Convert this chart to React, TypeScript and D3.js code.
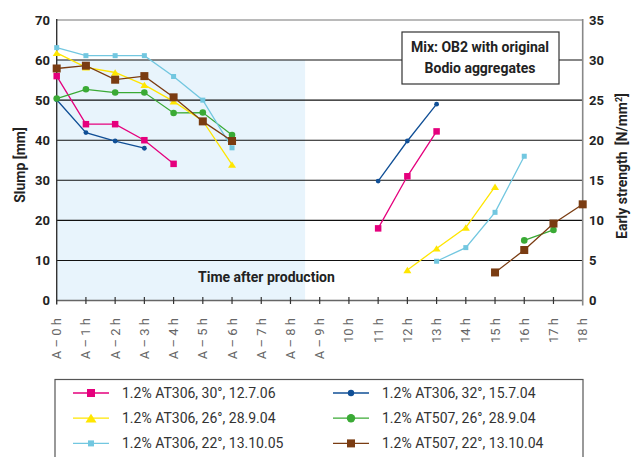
import * as d3 from 'd3';

const timeLabels = [
  'A – 0 h', 'A – 1 h', 'A – 2 h', 'A – 3 h', 'A – 4 h', 'A – 5 h', 'A – 6 h',
  'A – 7 h', 'A – 8 h', 'A – 9 h', '10 h', '11 h', '12 h', '13 h', '14 h',
  '15 h', '16 h', '17 h', '18 h',
];
const slumpTicks = [0, 10, 20, 30, 40, 50, 60, 70];
const strengthTicks = [0, 5, 10, 15, 20, 25, 30, 35];

// slump [mm], measured from hour 0
const slumpPink = [56, 44, 44, 40, 34.1];
const slumpBlue = [50.1, 41.9, 39.8, 38];
const slumpYellow = [61.8, 58.2, 56.9, 53.8, 49.7, 44.8, 33.9];
const slumpCyan = [63.1, 61.1, 61.1, 61.1, 55.9, 50, 38.1];
const slumpGreen = [50.4, 52.7, 51.9, 51.9, 46.8, 46.9, 41.3];
const slumpBrown = [57.9, 58.6, 55.1, 56, 50.7, 44.7, 39.8];

// early strength [N/mm2]
const strengthPink = [9, 15.5, 21.1];
const strengthBlue = [14.9, 19.9, 24.5];
const strengthYellow = [3.8, 6.5, 9.1, 14.2];
const strengthCyan = [4.9, 6.6, 11, 18];
const strengthGreen = [7.5, 8.8];
const strengthBrown = [3.5, 6.3, 9.6, 12];

const series = [
  { name: '1.2% AT306, 32°, 15.7.04', color: '#104f96', shape: 'circle', size: 2.4, lsize: 3.2, slump: slumpBlue, strength: strengthBlue, from: 11 },
  { name: '1.2% AT306, 30°, 12.7.06', color: '#e5007d', shape: 'square', size: 6.5, lsize: 8, slump: slumpPink, strength: strengthPink, from: 11 },
  { name: '1.2% AT507, 26°, 28.9.04', color: '#3aaa35', shape: 'circle', size: 3.3, lsize: 4.2, slump: slumpGreen, strength: strengthGreen, from: 16 },
  { name: '1.2% AT306, 26°, 28.9.04', color: '#ffe600', shape: 'triangle', size: 8, lsize: 11, slump: slumpYellow, strength: strengthYellow, from: 12 },
  { name: '1.2% AT306, 22°, 13.10.05', color: '#72c7e0', shape: 'square', size: 5, lsize: 6, slump: slumpCyan, strength: strengthCyan, from: 13 },
  { name: '1.2% AT507, 22°, 13.10.04', color: '#7a3c12', shape: 'square', size: 8, lsize: 8, slump: slumpBrown, strength: strengthBrown, from: 15 },
];
const legendOrder = [
  '1.2% AT306, 30°, 12.7.06', '1.2% AT306, 26°, 28.9.04', '1.2% AT306, 22°, 13.10.05',
  '1.2% AT306, 32°, 15.7.04', '1.2% AT507, 26°, 28.9.04', '1.2% AT507, 22°, 13.10.04',
];

const W = 637;
const H = 457;
const left = 56.7;
const right = 582.7;
const top = 20;
const bottom = 300.5;

const x = d3.scaleLinear().domain([0, timeLabels.length - 1]).range([left, right]);
const yL = d3.scaleLinear().domain([0, 70]).range([bottom, top]);
const yR = d3.scaleLinear().domain([0, 35]).range([bottom, top]);

const font = 'Roboto, "DejaVu Sans", sans-serif';

const Marker = ({ shape, cx, cy, size, color }) => {
  if (shape === 'circle') return <circle cx={cx} cy={cy} r={size} fill={color} />;
  if (shape === 'square')
    return <rect x={cx - size / 2} y={cy - size / 2} width={size} height={size} fill={color} />;
  const h = size * 0.8;
  return (
    <path
      d={`M${cx - size / 2},${cy + h / 2}L${cx + size / 2},${cy + h / 2}L${cx},${cy - h / 2}Z`}
      fill={color}
    />
  );
};

const App = () => {
  const line = d3
    .line<[number, number]>()
    .x((d) => d[0])
    .y((d) => d[1]);

  return (
    <svg width={W} height={H} style={{ position: 'absolute', left: 0, top: 0, background: '#fff' }} fontFamily={font}>
      <rect x={left} y={yL(60)} width={x(8.5) - left} height={yL(0) - yL(60)} fill="#e8f4fc" />
      {slumpTicks.slice(1).map((t) => (
        <line key={t} x1={left} x2={right} y1={yL(t)} y2={yL(t)} stroke={t === 70 ? '#777' : '#111'} strokeWidth={1.1} />
      ))}
      {/* axes */}
      <line x1={left} x2={right} y1={bottom} y2={bottom} stroke="#666" strokeWidth={1.6} />
      <line x1={left} x2={left} y1={top - 1} y2={bottom + 4} stroke="#333" strokeWidth={1.4} />
      <line x1={right} x2={right} y1={top - 1} y2={bottom + 5} stroke="#888" strokeWidth={1.6} />
      {timeLabels.map((lab, i) => (
        <g key={lab}>
          {i > 0 && i < timeLabels.length - 1 && (
            <line x1={x(i)} x2={x(i)} y1={bottom - 3.5} y2={bottom + 3.5} stroke="#333" strokeWidth={1.2} />
          )}
          <text
            transform={`translate(${x(i) + 4.5},318) rotate(-90)`}
            textAnchor="end"
            fontSize={13}
            fill="#666"
          >
            {lab}
          </text>
        </g>
      ))}
      {slumpTicks.map((t) => (
        <text key={t} x={50} y={yL(t) + 4.5} textAnchor="end" fontSize={13} fontWeight="bold" fill="#222">
          {t}
        </text>
      ))}
      {strengthTicks.map((t) => (
        <text key={t} x={589} y={yR(t) + 4.5} fontSize={13} fontWeight="bold" fill="#222">
          {t}
        </text>
      ))}
      <text transform="translate(25,165) rotate(-90)" textAnchor="middle" fontSize={14} fontWeight="bold" fill="#222">
        Slump [mm]
      </text>
      <text transform="translate(627,166) rotate(-90)" textAnchor="middle" fontSize={14} fontWeight="bold" fill="#222">
        Early strength<tspan dx={6}>[N/mm</tspan>
        <tspan dy={-5} fontSize={9}>2</tspan>
        <tspan dy={5}>]</tspan>
      </text>
      <text x={198} y={282} fontSize={14} fontWeight="bold" fill="#222">
        Time after production
      </text>
      <rect x={402} y={32} width={157} height={52} fill="#fff" stroke="#333" strokeWidth={1.2} />
      <text x={480} y={52} textAnchor="middle" fontSize={14} fontWeight="bold" fill="#222">
        Mix: OB2 with original
      </text>
      <text x={480} y={73} textAnchor="middle" fontSize={14} fontWeight="bold" fill="#222">
        Bodio aggregates
      </text>
      {/* series */}
      {series.map((s) => {
        const a = s.slump.map((v, i) => [x(i), yL(v)] as [number, number]);
        const b = s.strength.map((v, i) => [x(s.from + i), yR(v)] as [number, number]);
        return (
          <g key={s.name}>
            <path d={line(a) ?? ''} fill="none" stroke={s.color} strokeWidth={1.3} />
            <path d={line(b) ?? ''} fill="none" stroke={s.color} strokeWidth={1.3} />
            {[...a, ...b].map((p, i) => (
              <Marker key={i} shape={s.shape} cx={p[0]} cy={p[1]} size={s.size} color={s.color} />
            ))}
          </g>
        );
      })}
      {/* legend */}
      <rect x={55} y={379.5} width={528} height={100} fill="none" stroke="#555" strokeWidth={1.2} />
      {legendOrder.map((name, i) => {
        const s = series.find((d) => d.name === name)!;
        const col = Math.floor(i / 3);
        const row = i % 3;
        const lx = col === 0 ? 73 : 333;
        const cy = 393 + row * 25.2;
        return (
          <g key={name}>
            <line x1={lx} x2={lx + 36} y1={cy} y2={cy} stroke={s.color} strokeWidth={1.3} />
            <Marker shape={s.shape} cx={lx + 18} cy={cy} size={s.lsize} color={s.color} />
            <text x={lx + 49} y={cy + 5} fontSize={14} fill="#333">
              {name}
            </text>
          </g>
        );
      })}
    </svg>
  );
};

export default App;
